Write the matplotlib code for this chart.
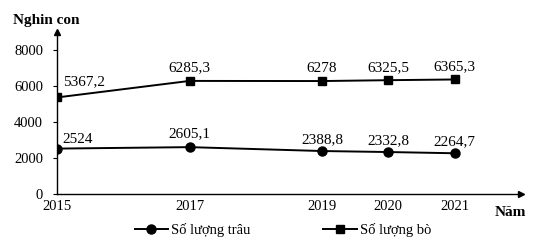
import matplotlib.pyplot as plt
from matplotlib.lines import Line2D

# data
years = [2015, 2017, 2019, 2020, 2021]
trau = [2524, 2605.1, 2388.8, 2332.8, 2264.7]
bo = [5367.2, 6285.3, 6278, 6325.5, 6365.3]
trau_labels = ['2524', '2605,1', '2388,8', '2332,8', '2264,7']
bo_labels = ['5367,2', '6285,3', '6278', '6325,5', '6365,3']
yticks = [0, 2000, 4000, 6000, 8000]

plt.rcParams['font.family'] = ['Liberation Serif', 'DejaVu Serif']

fig = plt.figure(figsize=(5.4, 2.48), dpi=100)
ax = fig.add_axes([0.1056, 0.2177, 0.859, 0.653])

ax.plot(years, trau, color='black', lw=1.4, marker='o', ms=6.5)
ax.plot(years, bo, color='black', lw=1.4, marker='s', ms=5.5)

# value labels
for i, (x, y, s) in enumerate(zip(years, trau, trau_labels)):
    if i == 0:
        ax.annotate(s, (x, y), xytext=(4, 2), textcoords='offset points',
                    ha='left', va='bottom', fontsize=11)
    else:
        off = 5 if i == 1 else 3.5
        ax.annotate(s, (x, y), xytext=(0, off), textcoords='offset points',
                    ha='center', va='bottom', fontsize=11)
for i, (x, y, s) in enumerate(zip(years, bo, bo_labels)):
    if i == 0:
        ax.annotate(s, (x, y), xytext=(4, 7), textcoords='offset points',
                    ha='left', va='bottom', fontsize=11)
    else:
        ax.annotate(s, (x, y), xytext=(0, 4.5), textcoords='offset points',
                    ha='center', va='bottom', fontsize=11)

ax.set_xlim(2015, 2022)
ax.set_ylim(0, 9000)
ax.set_xticks(years)
ax.set_yticks(yticks)
ax.tick_params(axis='x', length=0, pad=4, labelsize=10.5)
ax.tick_params(axis='y', length=3, width=0.8, pad=7, labelsize=10.5)

ax.spines['top'].set_visible(False)
ax.spines['right'].set_visible(False)
ax.spines['left'].set_linewidth(1.0)
ax.spines['bottom'].set_linewidth(1.0)

# axis arrows
ax.plot(1, 0, '>k', ms=5, transform=ax.transAxes, clip_on=False)
ax.plot(0, 1, '^k', ms=5, transform=ax.transAxes, clip_on=False)

fig.text(0.024, 0.905, 'Nghin con', fontsize=11, fontweight='bold')
fig.text(0.916, 0.13, 'Năm', fontsize=11, fontweight='bold')

handles = [
    Line2D([], [], color='black', lw=1.4, marker='o', ms=6.5),
    Line2D([], [], color='black', lw=1.4, marker='s', ms=5.5),
]
fig.legend(handles, ['Số lượng trâu', 'Số lượng bò'], loc='center',
           bbox_to_anchor=(0.524, 0.072), ncol=2, frameon=False, fontsize=10.5,
           handlelength=2.3, handletextpad=0.2, columnspacing=5.0)

fig.savefig('out.png', dpi=100)
